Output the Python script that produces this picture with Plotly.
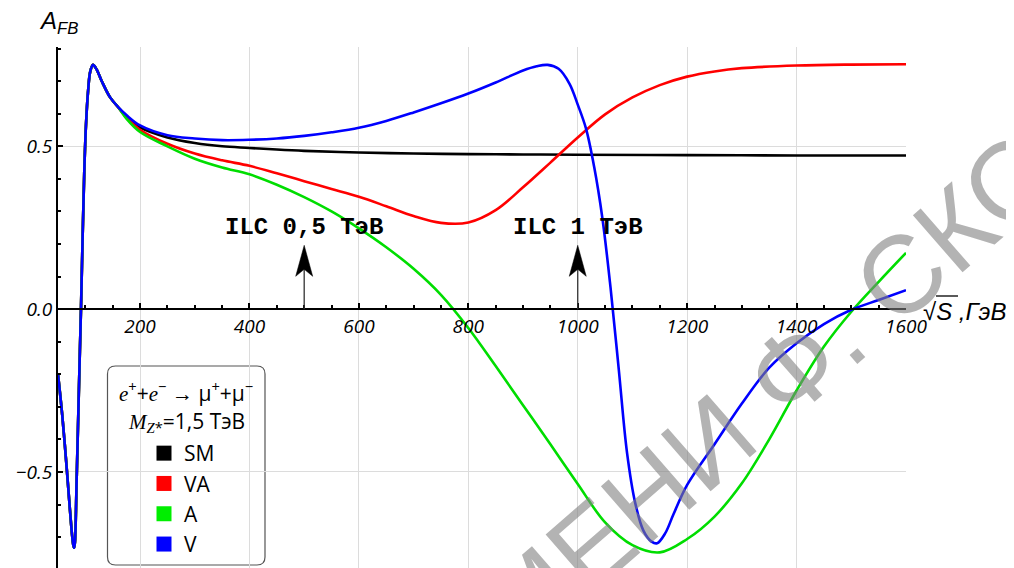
import plotly.graph_objects as go

# ---------------- data ----------------
# common part of all four curves (near the Z pole)
x_common = [50, 58, 66, 72, 75.5, 78, 79.5, 81, 84, 87, 90, 92, 95, 98, 101, 105, 109, 114, 120, 130, 145, 160]
y_common = [-0.20, -0.33, -0.49, -0.62, -0.69, -0.725, -0.733, -0.715, -0.53, -0.33, -0.13, 0.0, 0.22, 0.42, 0.56, 0.67, 0.73, 0.75, 0.738, 0.70, 0.651, 0.62]

x_sm = [175, 200, 250, 300, 350, 400, 450, 500, 600, 700, 800, 900, 1000, 1200, 1400, 1600]
y_sm = [0.592, 0.558, 0.527, 0.510, 0.500, 0.495, 0.490, 0.486, 0.481, 0.478, 0.476, 0.475, 0.474, 0.473, 0.472, 0.472]

x_va = [175, 200, 250, 300, 350, 400, 450, 500, 550, 600, 650, 700, 750, 800, 850, 900, 950, 1000, 1050, 1100, 1150, 1200, 1250, 1300, 1400, 1500, 1600]
y_va = [0.589, 0.551, 0.508, 0.478, 0.457, 0.440, 0.417, 0.393, 0.369, 0.345, 0.316, 0.286, 0.265, 0.266, 0.304, 0.374, 0.450, 0.527, 0.598, 0.650, 0.688, 0.714, 0.730, 0.740, 0.748, 0.751, 0.752]

x_a = [175, 200, 250, 300, 350, 400, 450, 500, 550, 600, 650, 700, 750, 800, 850, 900, 950, 1000, 1050, 1100, 1150, 1200, 1250, 1300, 1350, 1400, 1450, 1500, 1550, 1600]
y_a = [0.585, 0.544, 0.500, 0.462, 0.435, 0.414, 0.382, 0.344, 0.300, 0.248, 0.190, 0.124, 0.044, -0.058, -0.175, -0.295, -0.415, -0.537, -0.655, -0.725, -0.747, -0.706, -0.637, -0.535, -0.400, -0.250, -0.115, -0.008, 0.084, 0.173]

x_v = [175, 200, 250, 300, 350, 400, 450, 500, 550, 600, 650, 700, 750, 800, 850, 900, 925, 945, 965, 985, 1000, 1015, 1030, 1045, 1060, 1075, 1090, 1105, 1120, 1135, 1145, 1160, 1175, 1200, 1250, 1300, 1350, 1400, 1450, 1500, 1550, 1600]
y_v = [0.596, 0.564, 0.534, 0.524, 0.519, 0.520, 0.524, 0.532, 0.543, 0.557, 0.578, 0.604, 0.632, 0.662, 0.696, 0.733, 0.746, 0.750, 0.738, 0.692, 0.628, 0.555, 0.437, 0.280, 0.065, -0.185, -0.440, -0.595, -0.680, -0.714, -0.719, -0.688, -0.630, -0.540, -0.415, -0.290, -0.180, -0.105, -0.046, -0.002, 0.028, 0.058]

series_names = ["SM", "VA", "A", "V"]
series_colors = ["#000000", "#ff0000", "#00dd00", "#0000ff"]
legend_colors = ["#000000", "#ff0000", "#00ee00", "#0000ff"]

arrow_x = [500, 1000]
arrow_tip_y = 0.196
arrow_labels = ["ILC 0,5 ТэВ", "ILC 1 ТэВ"]
label_y = 0.252

# ---------------- layout helpers ----------------
# the page body adds an 8px offset, so the figure is 8px smaller
OFF = 8
FW, FH = 1014 - OFF, 568 - OFF
ML, MT, MB = 58 - OFF, 47 - OFF, 0
PW = 848
PH = FH - MT - MB
MR = FW - ML - PW


def pxx(px):
    return (px - 58) / PW


def pxy(py):
    return (568 - py) / PH


Y_RANGE = [-0.795, 0.805]

fig = go.Figure()

xs = [x_sm, x_va, x_a, x_v]
ys = [y_sm, y_va, y_a, y_v]
for name, col, xt, yt in zip(series_names, series_colors, xs, ys):
    fig.add_trace(go.Scatter(
        x=x_common + xt, y=y_common + yt, mode="lines",
        line=dict(color=col, width=2.6, shape="spline", smoothing=1.0),
        showlegend=False, hoverinfo="skip"))

for name, col in zip(series_names, legend_colors):
    fig.add_trace(go.Scatter(
        x=[None], y=[None], mode="markers", name=name, legendgroup=name,
        marker=dict(symbol="square", size=15, color=col)))

tickfont = dict(family="Open Sans", size=19, color="black", style="italic")

fig.update_layout(
    width=FW, height=FH,
    margin=dict(l=ML, r=MR, t=MT, b=MB, pad=0),
    paper_bgcolor="white", plot_bgcolor="white",
    xaxis=dict(
        range=[50, 1600], anchor="free", automargin=False,
        position=(0 - Y_RANGE[0]) / (Y_RANGE[1] - Y_RANGE[0]),
        showline=True, linecolor="black", linewidth=2,
        ticks="inside", ticklen=5, tickwidth=1.5, tickcolor="black",
        tick0=0, dtick=200, tickfont=tickfont,
        minor=dict(dtick=50, ticks="inside", ticklen=3, tickwidth=1.5, tickcolor="black", showgrid=False),
        showgrid=True, gridcolor="#dcdcdc", gridwidth=1, zeroline=False),
    yaxis=dict(
        range=Y_RANGE, automargin=False,
        showline=True, linecolor="black", linewidth=2,
        ticks="inside", ticklen=5, tickwidth=1.5, tickcolor="black",
        tick0=0, dtick=0.5, tickformat=".1f", tickfont=tickfont,
        minor=dict(dtick=0.1, ticks="inside", ticklen=3, tickwidth=1.5, tickcolor="black", showgrid=False),
        showgrid=True, gridcolor="#dcdcdc", gridwidth=1, zeroline=False),
    legend=dict(
        x=pxx(144), xanchor="left", y=pxy(433), yanchor="top",
        bgcolor="rgba(0,0,0,0)", borderwidth=0,
        font=dict(family="Open Sans", size=21, color="black"),
        traceorder="grouped", tracegroupgap=0, itemwidth=30),
)


# legend frame (rounded)
def rr_path(x0, y0, x1, y1, r):
    def P(a, b):
        return f"{pxx(a):.5f},{pxy(b):.5f}"
    pts = ["M" + P(x0 + r, y0), "L" + P(x1 - r, y0),
           "Q" + P(x1, y0) + " " + P(x1, y0 + r), "L" + P(x1, y1 - r),
           "Q" + P(x1, y1) + " " + P(x1 - r, y1), "L" + P(x0 + r, y1),
           "Q" + P(x0, y1) + " " + P(x0, y1 - r), "L" + P(x0, y0 + r),
           "Q" + P(x0, y0) + " " + P(x0 + r, y0)]
    return " ".join(pts) + " Z"


fig.add_shape(type="path", xref="paper", yref="paper",
              path=rr_path(107.5, 366, 265, 565, 8),
              line=dict(color="#555555", width=1.2), fillcolor="white", layer="between")

serif = "font-family:'Liberation Serif'"
fig.add_annotation(
    xref="paper", yref="paper", x=pxx(186), y=pxy(391.7), showarrow=False,
    xanchor="center", yanchor="middle",
    text=f"<span style=\"{serif}\"><i>e</i></span><sup>+</sup>+<span style=\"{serif}\"><i>e</i></span><sup>−</sup> → μ<sup>+</sup>+μ<sup>−</sup>",
    font=dict(family="Open Sans", size=21, color="black"))
fig.add_annotation(
    xref="paper", yref="paper", x=pxx(186), y=pxy(421.7), showarrow=False,
    xanchor="center", yanchor="middle",
    text=f"<span style=\"{serif}\"><i>M</i></span><sub><span style=\"{serif}\"><i>Z</i></span>*</sub>=1,5 ТэВ",
    font=dict(family="Open Sans", size=21, color="black"))

# axis titles
fig.add_annotation(
    xref="paper", yref="paper", x=pxx(37), y=pxy(22), showarrow=False,
    xanchor="left", yanchor="middle",
    text="<i>A<sub>FB</sub></i>",
    font=dict(family="Liberation Sans", size=24, color="black"))
fig.add_annotation(
    xref="paper", yref="paper", x=pxx(921), y=pxy(311), showarrow=False,
    xanchor="left", yanchor="middle",
    text="√<i>S</i><i> ,ГэВ</i>",
    font=dict(family="Liberation Sans", size=24, color="black"))
# overbar of the square root
fig.add_shape(type="line", xref="paper", yref="paper",
              x0=pxx(936), x1=pxx(958), y0=pxy(296), y1=pxy(296),
              line=dict(color="black", width=1.3), layer="above")

# ILC arrows and labels
for ax_, lab in zip(arrow_x, arrow_labels):
    fig.add_shape(type="line", xref="x", yref="y", x0=ax_, x1=ax_, y0=0, y1=arrow_tip_y - 0.05,
                  line=dict(color="#333333", width=1.3), layer="above")
    fig.add_shape(type="path", xref="x", yref="y", xsizemode="pixel", ysizemode="pixel",
                  xanchor=ax_, yanchor=arrow_tip_y,
                  path="M0,0 L8.5,-31 L0,-24 L-8.5,-31 Z",
                  line=dict(color="black", width=0.5), fillcolor="black", layer="above")
    fig.add_annotation(
        xref="x", yref="y", x=ax_, y=label_y, showarrow=False,
        xanchor="center", yanchor="middle", text=lab,
        font=dict(family="Courier New, Liberation Mono, monospace", size=24, color="black", weight="bold"))

# watermark
fig.add_annotation(
    xref="paper", yref="paper", x=pxx(862), y=pxy(308), showarrow=False,
    xanchor="center", yanchor="middle", textangle=-41,
    text="ИМЕНИ Ф. СКОРИНЫ",
    font=dict(family="Liberation Sans", size=110, color="rgba(128,128,128,0.6)"))

fig.write_html("out.html")
